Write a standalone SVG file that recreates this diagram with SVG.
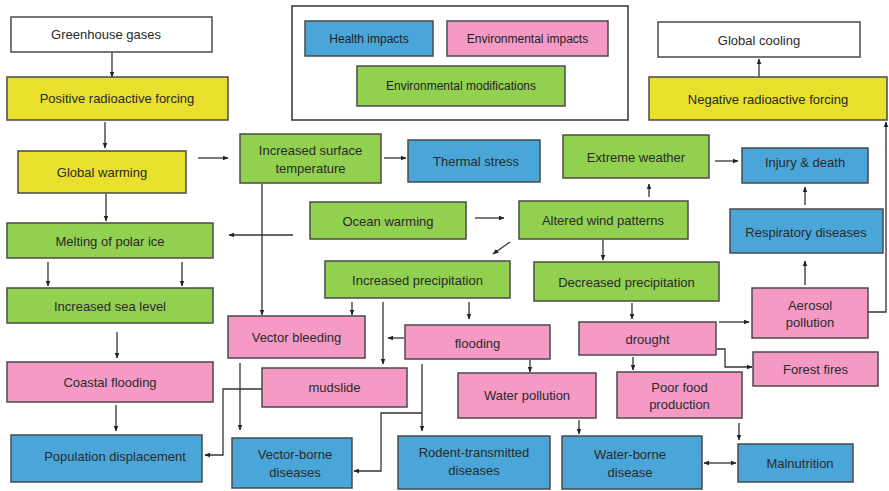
<svg xmlns="http://www.w3.org/2000/svg" width="889" height="491" viewBox="0 0 889 491">
  <defs>
    <marker id="ah" viewBox="0 0 10 10" refX="9" refY="5" markerWidth="6" markerHeight="6" orient="auto-start-reverse" markerUnits="userSpaceOnUse">
      <path d="M0,1 L10,5 L0,9 z" fill="#222"/>
    </marker>
    <style>
      .box { stroke: #4a4a4a; stroke-width: 1.5; }
      .white { fill: #ffffff; }
      .yellow { fill: #e8e02c; }
      .green { fill: #92d050; }
      .blue { fill: #4aa6d8; }
      .pink { fill: #f49ac4; }
      .lbl { font-family: "Liberation Sans", Arial, sans-serif; font-size: 13px; fill: #2a2a2a; text-anchor: middle; dominant-baseline: central; }
      .leg { font-family: "Liberation Sans", Arial, sans-serif; font-size: 12px; fill: #1e1e1e; text-anchor: middle; dominant-baseline: central; }
      .ln { fill: none; stroke: #333; stroke-width: 1.3; }
      .arr { fill: none; stroke: #333; stroke-width: 1.3; marker-end: url(#ah); }
      .arr2 { fill: none; stroke: #333; stroke-width: 1.3; marker-end: url(#ah); marker-start: url(#ah); }
    </style>
  </defs>
  <rect width="889" height="491" fill="#ffffff"/>

  <!-- legend -->
  <g id="legend">
    <rect x="292" y="6" width="336" height="114" fill="#ffffff" stroke="#333" stroke-width="1.5"/>
    <rect class="box blue" x="305" y="21" width="128" height="35"/>
    <text class="leg" x="369" y="38.5">Health impacts</text>
    <rect class="box pink" x="447" y="21" width="161" height="35"/>
    <text class="leg" x="527.5" y="38.5">Environmental impacts</text>
    <rect class="box green" x="357" y="66" width="208" height="40"/>
    <text class="leg" x="461" y="86">Environmental modifications</text>
  </g>

  <!-- connectors -->
  <g id="connectors">
    <path class="arr" d="M112,52 V77"/>
    <path class="arr" d="M105,122 V148"/>
    <path class="arr" d="M198,158 H228"/>
    <path class="arr" d="M384,158 H406"/>
    <path class="arr" d="M106,194 V221"/>
    <path class="arr" d="M293,235 H229"/>
    <path class="arr" d="M262,184 V315"/>
    <path class="arr" d="M475,218 H504"/>
    <path class="arr" d="M510,242 L493,254"/>
    <path class="arr" d="M649,197 V184"/>
    <path class="arr" d="M715,161 H738"/>
    <path class="arr" d="M603,240 V260"/>
    <path class="arr" d="M805,205 V187"/>
    <path class="arr" d="M805,285 V261"/>
    <path class="arr" d="M868,312 H886 V122"/>
    <path class="arr" d="M759,77 V59"/>
    <path class="arr" d="M48,262 V286"/>
    <path class="arr" d="M182,262 V286"/>
    <path class="arr" d="M117,332 V358"/>
    <path class="arr" d="M116,405 V431"/>
    <path class="arr" d="M632,303 V319"/>
    <path class="arr" d="M719,322 H749"/>
    <path class="arr" d="M717,349 H725 V367 H752"/>
    <path class="arr" d="M633,357 V370"/>
    <path class="arr" d="M739,423 V440"/>
    <path class="arr2" d="M704,463 H736"/>
    <path class="arr" d="M579,420 V434"/>
    <path class="arr" d="M530,360 V372"/>
    <path class="arr" d="M469,302 V319"/>
    <path class="arr" d="M352,302 V315"/>
    <path class="arr" d="M383,302 V364"/>
    <path class="arr" d="M404,338 H388"/>
    <path class="arr" d="M240,363 V430"/>
    <path class="arr" d="M262,389 H223 V455 H205"/>
    <path class="arr" d="M422,364 V431"/>
    <path class="arr" d="M422,413 H381 V471 H354"/>
  </g>

  <!-- nodes -->
  <g id="greenhouse-gases">
    <rect class="box white" x="11" y="17" width="201" height="35"/>
    <text class="lbl" x="106" y="34">Greenhouse gases</text>
  </g>
  <g id="positive-forcing">
    <rect class="box yellow" x="7" y="77" width="221" height="43"/>
    <text class="lbl" x="117" y="98.5">Positive radioactive forcing</text>
  </g>
  <g id="global-warming">
    <rect class="box yellow" x="18" y="151" width="168" height="42"/>
    <text class="lbl" x="102" y="172">Global warming</text>
  </g>
  <g id="global-cooling">
    <rect class="box white" x="658" y="22" width="202" height="35"/>
    <text class="lbl" x="759" y="40">Global cooling</text>
  </g>
  <g id="negative-forcing">
    <rect class="box yellow" x="649" y="77" width="238" height="43"/>
    <text class="lbl" x="768" y="99">Negative radioactive forcing</text>
  </g>
  <g id="surface-temperature">
    <rect class="box green" x="240" y="134" width="141" height="49"/>
    <text class="lbl" x="310.5" y="150.5">Increased surface</text>
    <text class="lbl" x="310.5" y="168">temperature</text>
  </g>
  <g id="thermal-stress">
    <rect class="box blue" x="408" y="140" width="132" height="42"/>
    <text class="lbl" x="476" y="161">Thermal stress</text>
  </g>
  <g id="extreme-weather">
    <rect class="box green" x="563" y="135" width="146" height="43"/>
    <text class="lbl" x="636" y="157">Extreme weather</text>
  </g>
  <g id="injury-death">
    <rect class="box blue" x="742" y="148" width="126" height="35"/>
    <text class="lbl" x="805" y="162">Injury &amp; death</text>
  </g>
  <g id="ocean-warming">
    <rect class="box green" x="310" y="202" width="156" height="37"/>
    <text class="lbl" x="388" y="221">Ocean warming</text>
  </g>
  <g id="altered-wind">
    <rect class="box green" x="519" y="201" width="169" height="38"/>
    <text class="lbl" x="603" y="220">Altered wind patterns</text>
  </g>
  <g id="respiratory">
    <rect class="box blue" x="730" y="209" width="153" height="44"/>
    <text class="lbl" x="806" y="232">Respiratory diseases</text>
  </g>
  <g id="melting-ice">
    <rect class="box green" x="7" y="223" width="206" height="35"/>
    <text class="lbl" x="110" y="241">Melting of polar ice</text>
  </g>
  <g id="increased-precipitation">
    <rect class="box green" x="325" y="261" width="185" height="37"/>
    <text class="lbl" x="417.5" y="280">Increased precipitation</text>
  </g>
  <g id="decreased-precipitation">
    <rect class="box green" x="534" y="262" width="185" height="39"/>
    <text class="lbl" x="626.5" y="282">Decreased precipitation</text>
  </g>
  <g id="sea-level">
    <rect class="box green" x="7" y="288" width="206" height="35"/>
    <text class="lbl" x="110" y="306">Increased sea level</text>
  </g>
  <g id="aerosol">
    <rect class="box pink" x="752" y="288" width="116" height="50"/>
    <text class="lbl" x="810" y="305">Aerosol</text>
    <text class="lbl" x="810" y="322.5">pollution</text>
  </g>
  <g id="vector-bleeding">
    <rect class="box pink" x="228" y="316" width="137" height="42"/>
    <text class="lbl" x="296.5" y="337">Vector bleeding</text>
  </g>
  <g id="flooding">
    <rect class="box pink" x="405" y="325" width="145" height="34"/>
    <text class="lbl" x="477.5" y="343">flooding</text>
  </g>
  <g id="drought">
    <rect class="box pink" x="579" y="322" width="137" height="33"/>
    <text class="lbl" x="647.5" y="339">drought</text>
  </g>
  <g id="forest-fires">
    <rect class="box pink" x="753" y="352" width="125" height="34"/>
    <text class="lbl" x="815.5" y="369.5">Forest fires</text>
  </g>
  <g id="coastal-flooding">
    <rect class="box pink" x="7" y="362" width="206" height="40"/>
    <text class="lbl" x="110" y="382">Coastal flooding</text>
  </g>
  <g id="mudslide">
    <rect class="box pink" x="262" y="368" width="145" height="39"/>
    <text class="lbl" x="334.5" y="387.5">mudslide</text>
  </g>
  <g id="water-pollution">
    <rect class="box pink" x="458" y="373" width="138" height="45"/>
    <text class="lbl" x="527" y="395.5">Water pollution</text>
  </g>
  <g id="poor-food">
    <rect class="box pink" x="617" y="372" width="125" height="46"/>
    <text class="lbl" x="679.5" y="387">Poor food</text>
    <text class="lbl" x="679.5" y="404.5">production</text>
  </g>
  <g id="population-displacement">
    <rect class="box blue" x="11" y="435" width="191" height="47"/>
    <text class="lbl" x="115" y="456">Population displacement</text>
  </g>
  <g id="vector-borne">
    <rect class="box blue" x="232" y="438" width="120" height="50"/>
    <text class="lbl" x="295" y="454.5">Vector-borne</text>
    <text class="lbl" x="295" y="472">diseases</text>
  </g>
  <g id="rodent-transmitted">
    <rect class="box blue" x="398" y="436" width="152" height="53"/>
    <text class="lbl" x="474" y="452.5">Rodent-transmitted</text>
    <text class="lbl" x="474" y="470">diseases</text>
  </g>
  <g id="water-borne">
    <rect class="box blue" x="562" y="436" width="140" height="53"/>
    <text class="lbl" x="630" y="454">Water-borne</text>
    <text class="lbl" x="630" y="472">disease</text>
  </g>
  <g id="malnutrition">
    <rect class="box blue" x="738" y="444" width="115" height="38"/>
    <text class="lbl" x="800" y="463">Malnutrition</text>
  </g>
</svg>
